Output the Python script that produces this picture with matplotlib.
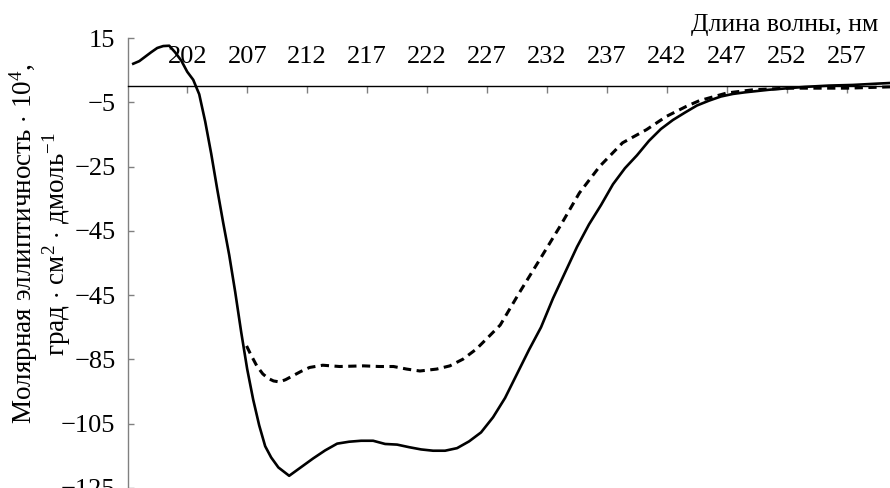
import matplotlib
matplotlib.use("Agg")
import matplotlib.pyplot as plt

plt.rcParams['font.family'] = ['Liberation Serif', 'DejaVu Serif']
plt.rcParams['mathtext.fontset'] = 'custom'
plt.rcParams['mathtext.rm'] = 'Liberation Serif'
plt.rcParams['mathtext.it'] = 'Liberation Serif:italic'

# solid curve
wl_solid = [197.5, 198.0, 198.5, 199.0, 199.5, 200.0, 200.5, 201.0, 201.5, 202.0,
            202.5, 203.0, 203.5, 204.0, 204.5, 205.0, 205.5, 206.0, 206.5, 207.0,
            207.5, 208.0, 208.5, 209.0, 209.6, 210.5, 211.5, 212.5, 213.5, 214.5,
            215.5, 216.5, 217.5, 218.5, 219.5, 220.5, 221.5, 222.5, 223.5, 224.5,
            225.5, 226.5, 227.5, 228.5, 229.5, 230.5, 231.5, 232.5, 233.5, 234.5,
            235.5, 236.5, 237.5, 238.5, 239.5, 240.5, 241.5, 242.5, 243.5, 244.5,
            245.5, 246.5, 247.5, 248.5, 249.5, 250.5, 251.5, 252.5, 253.5, 254.5,
            255.5, 256.5, 257.5, 258.5, 259.5, 260.6]
val_solid = [7.0, 7.8, 9.2, 10.6, 11.9, 12.5, 12.6, 10.5, 8.0, 4.5,
             2.0, -2.5, -11.0, -21.0, -32.0, -42.5, -52.5, -64.0, -76.5, -88.0,
             -97.5, -105.5, -112.0, -115.5, -118.6, -121.2, -118.5, -115.8, -113.3, -111.2,
             -110.6, -110.3, -110.3, -111.3, -111.5, -112.3, -113.0, -113.4, -113.4, -112.6,
             -110.5, -107.7, -103.0, -97.0, -89.5, -82.0, -75.0, -66.0, -58.0, -50.0,
             -43.0, -37.0, -30.5, -25.5, -21.5, -17.0, -13.3, -10.5, -8.2, -6.0,
             -4.5, -3.2, -2.4, -1.9, -1.5, -1.1, -0.8, -0.5, -0.2, 0.0,
             0.2, 0.3, 0.4, 0.6, 0.8, 1.0]

# dashed curve
wl_dash = [206.95, 207.3, 207.8, 208.3, 208.75, 209.2, 209.7, 210.2, 210.8, 211.5,
           212.2, 213.3, 214.7, 215.7, 216.7, 218.0, 219.2, 220.3, 221.4, 222.8,
           223.9, 225.0, 226.1, 227.2, 228.1, 229.7, 231.4, 233.1, 234.7, 236.4,
           238.3, 240.3, 241.95, 243.6, 244.7, 247.0, 249.2, 252.0, 254.0, 257.0, 260.6]
val_dash = [-80.8, -83.5, -87.0, -89.5, -90.9, -91.7, -92.0, -91.3, -90.1, -88.7,
            -87.5, -86.8, -87.2, -87.1, -87.0, -87.2, -87.2, -88.0, -88.6, -88.0,
            -87.0, -84.9, -81.8, -77.7, -74.3, -64.2, -53.9, -43.5, -33.2, -24.9,
            -17.6, -13.5, -9.4, -6.3, -4.5, -2.1, -1.1, -0.6, -0.6, -0.6, -0.2]

x_ticks = [202, 207, 212, 217, 222, 227, 232, 237, 242, 247, 252, 257]
y_ticks = [15, -5, -25, -45, -65, -85, -105, -125]
# the source figure really labels -65 as "-45"
y_labels = ["15", "\u22125", "\u221225", "\u221245", "\u221245", "\u221285", "\u2212105", "\u2212125"]

fig = plt.figure(figsize=(8.9, 4.88), dpi=100)
ax = fig.add_axes([0.1438, 0.0, 0.8562, 0.9221])

ax.plot(wl_solid, val_solid, color='black', lw=1.9, solid_joinstyle='round')
ax.plot(wl_dash, val_dash, color='black', lw=2.2, linestyle=(0, (2.7, 1.8)))

ax.set_xlim(197.06, 260.6)
ax.set_ylim(-125, 15)

# x axis drawn at zero, ticks hanging down, labels above
ax.spines['top'].set_position(('data', 0))
ax.spines['top'].set_color('black')
ax.spines['top'].set_linewidth(1.0)
ax.spines['bottom'].set_visible(False)
ax.spines['right'].set_visible(False)
ax.spines['left'].set_color('#808080')
ax.spines['left'].set_linewidth(1.0)

ax.set_xticks(x_ticks)
ax.set_xticklabels([str(t) for t in x_ticks])
ax.tick_params(axis='x', which='both', top=True, bottom=False, labeltop=True,
               labelbottom=False, direction='in', length=5, width=1,
               color='#808080', labelsize=19, pad=13)

ax.set_yticks(y_ticks)
ax.set_yticklabels(y_labels)
ax.tick_params(axis='y', direction='in', length=4, width=1, color='#808080',
               labelsize=19, pad=9)

fig.text(0.987, 0.948, "Длина волны, нм", ha='right', va='center', fontsize=18.5)
fig.text(0.045, 0.5,
         "Молярная эллиптичность $\\cdot$ 10$^4$,\nград $\\cdot$ см$^2$ $\\cdot$ дмоль$^{-1}$",
         rotation=90, ha='center', va='center', multialignment='center',
         fontsize=19.5, linespacing=1.0)

fig.savefig("out.png", dpi=100)
